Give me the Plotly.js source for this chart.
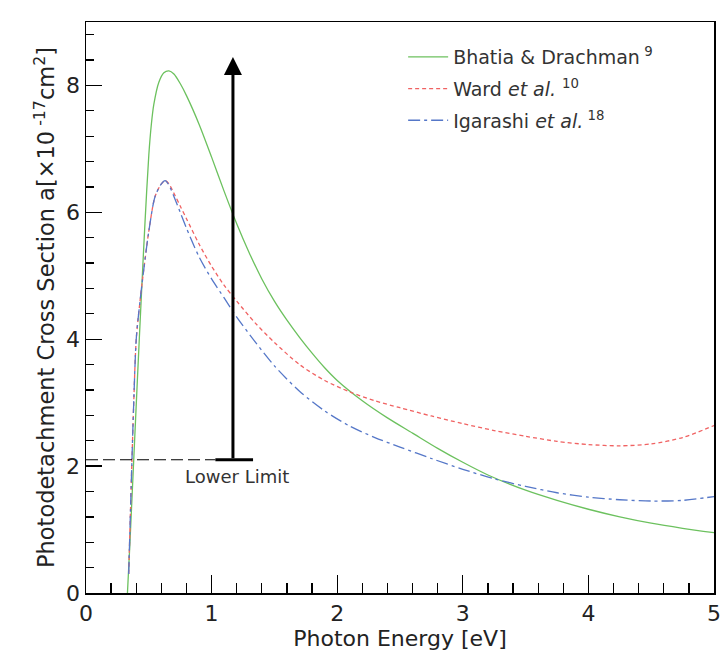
<!DOCTYPE html>
<html>
<head>
<meta charset="utf-8">
<script src="https://cdn.plot.ly/plotly-3.0.1.min.js"></script>
<style>html,body{margin:0;padding:0;background:#fff;}#chart{width:720px;height:654px;}</style>
</head>
<body>
<div id="chart"></div>
<script>
// Bhatia & Drachman
var bhatiaX = [0.33,0.35,0.38,0.41,0.44,0.47,0.50,0.52,0.54,0.58,0.62,0.66,0.70,0.75,0.80,0.90,1.0,1.1,1.2,1.3,1.4,1.5,1.6,1.7,1.8,1.9,2.0,2.2,2.4,2.6,2.8,3.0,3.2,3.5,3.75,4.0,4.25,4.5,4.75,5.0];
var bhatiaY = [0.0,0.8,2.1,3.4,4.65,5.85,6.9,7.38,7.7,8.05,8.2,8.23,8.18,8.03,7.84,7.39,6.87,6.33,5.82,5.36,4.95,4.6,4.3,4.03,3.78,3.55,3.35,3.03,2.76,2.52,2.28,2.06,1.86,1.62,1.46,1.32,1.2,1.1,1.02,0.95];
// Ward et al.
var wardX = [0.34,0.36,0.38,0.40,0.43,0.46,0.50,0.55,0.60,0.63,0.66,0.70,0.75,0.80,0.90,1.0,1.1,1.2,1.35,1.5,1.7,1.9,2.1,2.3,2.5,2.75,3.0,3.25,3.5,3.75,4.0,4.25,4.5,4.75,5.0];
var wardY = [0.3,1.7,3.0,4.0,4.6,5.1,5.7,6.25,6.45,6.5,6.45,6.3,6.1,5.9,5.5,5.15,4.85,4.6,4.25,3.95,3.6,3.35,3.17,3.03,2.92,2.79,2.67,2.56,2.47,2.39,2.34,2.32,2.35,2.45,2.64];
// Igarashi et al.
var igarashiX = [0.34,0.36,0.38,0.40,0.43,0.46,0.50,0.55,0.60,0.63,0.66,0.70,0.75,0.80,0.90,1.0,1.1,1.2,1.35,1.5,1.7,1.9,2.1,2.3,2.5,2.75,3.0,3.25,3.5,3.75,4.0,4.25,4.5,4.75,5.0];
var igarashiY = [0.3,1.7,3.0,4.0,4.6,5.1,5.7,6.25,6.45,6.5,6.43,6.25,6.0,5.75,5.3,4.95,4.65,4.35,3.95,3.58,3.18,2.87,2.63,2.45,2.3,2.12,1.95,1.8,1.68,1.58,1.51,1.47,1.45,1.46,1.52];

var seriesNames = ['Bhatia &amp; Drachman<sup> 9</sup>', 'Ward <i>et al.</i> <sup>10</sup>', 'Igarashi <i>et al.</i><sup> 18</sup>'];

// Lower limit marker
var lowerLimit = 2.1;
var limitX = 1.17;
var limitTop = 8.45;
var limitBar = [1.03, 1.33];
var limitLabel = 'Lower Limit';

var xTickVals = [0,1,2,3,4,5];
var yTickVals = [0,2,4,6,8];

var FONT = 'DejaVu Sans, sans-serif';

var traces = [
  {x: bhatiaX, y: bhatiaY, name: seriesNames[0], legendgroup: 'a', mode: 'lines', line: {color: '#6cc15e', width: 1.3, shape: 'spline', smoothing: 0.8}},
  {x: wardX, y: wardY, name: seriesNames[1], legendgroup: 'b', mode: 'lines', line: {color: '#f06262', width: 1.3, dash: '4px,3px', shape: 'spline', smoothing: 0.8}},
  {x: igarashiX, y: igarashiY, name: seriesNames[2], legendgroup: 'c', mode: 'lines', line: {color: '#5577c8', width: 1.3, dash: '12px,4px,3px,4px', shape: 'spline', smoothing: 0.8}},
  {x: [0, limitBar[0]], y: [lowerLimit, lowerLimit], mode: 'lines', showlegend: false, hoverinfo: 'skip', line: {color: '#000', width: 1.2, dash: '12px,5px'}},
  {x: limitBar, y: [lowerLimit, lowerLimit], mode: 'lines', showlegend: false, hoverinfo: 'skip', line: {color: '#000', width: 3}}
];

var layout = {
  width: 720, height: 654,
  margin: {l: 86, r: 6, t: 22, b: 61},
  paper_bgcolor: '#fff', plot_bgcolor: '#fff',
  font: {family: FONT, color: '#222'},
  showlegend: true,
  legend: {x: 0.505, y: 0.972, xanchor: 'left', yanchor: 'top', bgcolor: 'rgba(0,0,0,0)', borderwidth: 0,
           font: {family: FONT, size: 19, color: '#333'}, itemwidth: 40, tracegroupgap: 4},
  xaxis: {
    range: [0, 5], tickvals: xTickVals, ticks: 'inside', ticklen: 18, tickwidth: 1.3, tickcolor: '#000',
    showline: true, linecolor: '#000', linewidth: 1.5, mirror: true, showgrid: false, zeroline: false,
    ticklabeloverflow: 'allow',
    tickfont: {family: FONT, size: 22, color: '#222'},
    minor: {dtick: 0.2, ticks: 'inside', ticklen: 10, tickwidth: 1.3, tickcolor: '#000', showgrid: false},
    title: {text: 'Photon Energy [eV]', font: {family: FONT, size: 22, color: '#222'}, standoff: 2}
  },
  yaxis: {
    range: [0, 9], tickvals: yTickVals, ticks: 'inside', ticklen: 16, tickwidth: 1.3, tickcolor: '#000',
    showline: true, linecolor: '#000', linewidth: 1.5, mirror: true, showgrid: false, zeroline: false,
    ticklabeloverflow: 'allow',
    tickfont: {family: FONT, size: 22, color: '#222'},
    minor: {dtick: 0.4, ticks: 'inside', ticklen: 8, tickwidth: 1.3, tickcolor: '#000', showgrid: false},
    title: {text: 'Photodetachment Cross Section a[×10<sup> -17</sup>cm<sup>2</sup>]', font: {family: FONT, size: 22.5, color: '#222'}, standoff: 5}
  },
  annotations: [
    {x: limitX, y: limitTop, ax: limitX, ay: lowerLimit, xref: 'x', yref: 'y', axref: 'x', ayref: 'y',
     showarrow: true, arrowhead: 2, arrowsize: 1.2, arrowwidth: 3, arrowcolor: '#000', text: ''},
    {x: limitX + 0.03, y: 1.83, xref: 'x', yref: 'y', text: limitLabel, showarrow: false,
     font: {family: FONT, size: 18, color: '#333'}}
  ]
};

Plotly.newPlot('chart', traces, layout, {displayModeBar: false, staticPlot: true});
</script>
</body>
</html>
